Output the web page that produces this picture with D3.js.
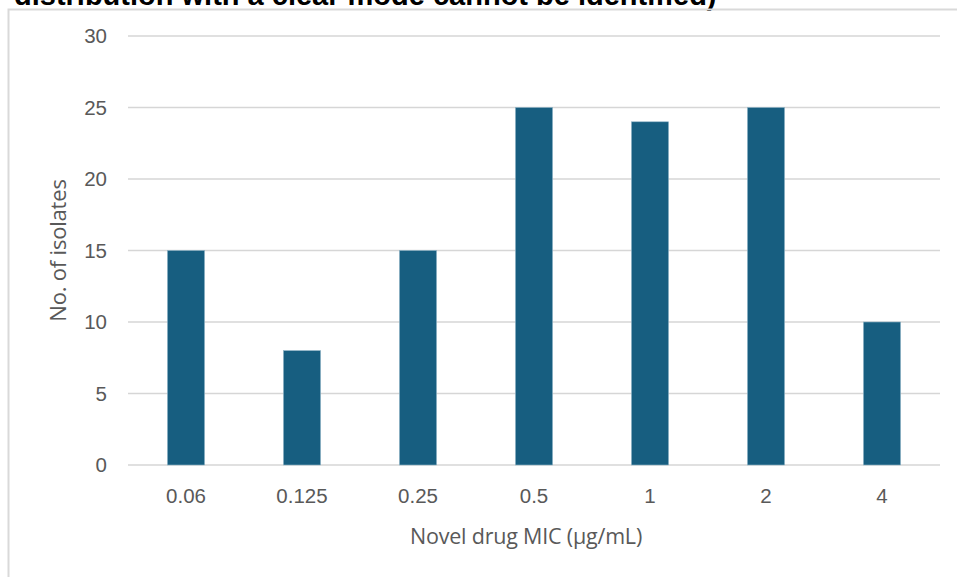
<!DOCTYPE html>
<html>
<head>
<meta charset="utf-8">
<script src="https://cdn.jsdelivr.net/npm/d3@7"></script>
<style>
  html, body { margin: 0; padding: 0; background: #fff; }
  svg { display: block; }
</style>
</head>
<body>
<svg id="chart" width="957" height="577"></svg>
<script>
// MIC distribution of the novel drug
const categories = ["0.06", "0.125", "0.25", "0.5", "1", "2", "4"];
const isolates = [15, 8, 15, 25, 24, 25, 10];
const yTicks = [0, 5, 10, 15, 20, 25, 30];
const titleText = "distribution with a clear mode cannot be identified)";
const xTitle = "Novel drug MIC (\u00b5g/mL)";
const yTitle = "No. of isolates";

const svg = d3.select("#chart");
const W = 957, H = 577;
const plot = { left: 128, right: 940, top: 36, bottom: 465 };

// Caption line running above the chart frame
svg.append("text")
  .attr("x", 14).attr("y", 5)
  .attr("font-family", "Liberation Sans, Arial, sans-serif")
  .attr("font-weight", "bold")
  .attr("font-size", 29)
  .attr("fill", "#000")
  .text(titleText);

// Chart frame
svg.append("path")
  .attr("d", `M${W + 5},9.5 H8.5 V${H + 5}`)
  .attr("fill", "none")
  .attr("stroke", "#d9d9d9")
  .attr("stroke-width", 2);

const x = d3.scaleBand()
  .domain(categories)
  .range([plot.left, plot.right])
  .paddingInner(0.68)
  .paddingOuter(0.34);

const y = d3.scaleLinear()
  .domain([0, 30])
  .range([plot.bottom, plot.top]);

// Gridlines
svg.append("g")
  .selectAll("line")
  .data(yTicks)
  .join("line")
  .attr("x1", plot.left).attr("x2", plot.right)
  .attr("y1", d => y(d)).attr("y2", d => y(d))
  .attr("stroke", "#d6d6d6")
  .attr("stroke-width", 1.5);

// Bars
svg.append("g")
  .selectAll("rect")
  .data(categories.map((c, i) => ({ c, v: isolates[i] })))
  .join("rect")
  .attr("x", d => x(d.c))
  .attr("width", x.bandwidth())
  .attr("y", d => y(d.v))
  .attr("height", d => y(0) - y(d.v))
  .attr("fill", "#175e80")
  .attr("stroke", "#8fb4c6")
  .attr("stroke-width", 0.6);

const tickFont = "Liberation Sans, Arial, sans-serif";

// Y axis
const yAxis = svg.append("g")
  .attr("transform", `translate(${plot.left - 21},0)`)
  .call(d3.axisLeft(y).tickValues(yTicks).tickSize(0).tickPadding(0));
yAxis.select(".domain").remove();
yAxis.selectAll("text")
  .attr("font-family", tickFont)
  .attr("font-size", 20.5)
  .attr("fill", "#595959");

// X axis
const xAxis = svg.append("g")
  .attr("transform", `translate(0,${plot.bottom})`)
  .call(d3.axisBottom(x).tickSize(0).tickPadding(23));
xAxis.select(".domain").remove();
xAxis.selectAll("text")
  .attr("font-family", tickFont)
  .attr("font-size", 20.5)
  .attr("fill", "#595959");

// Axis titles
svg.append("text")
  .attr("x", 526)
  .attr("y", 544)
  .attr("text-anchor", "middle")
  .attr("font-family", "Open Sans, sans-serif")
  .attr("font-size", 21.5)
  .attr("fill", "#595959")
  .attr("letter-spacing", -0.2)
  .text(xTitle);

svg.append("text")
  .attr("transform", `translate(66,${(plot.top + plot.bottom) / 2}) rotate(-90)`)
  .attr("text-anchor", "middle")
  .attr("font-family", "Open Sans, sans-serif")
  .attr("font-size", 22)
  .attr("fill", "#595959")
  .attr("letter-spacing", -0.2)
  .text(yTitle);
</script>
</body>
</html>
